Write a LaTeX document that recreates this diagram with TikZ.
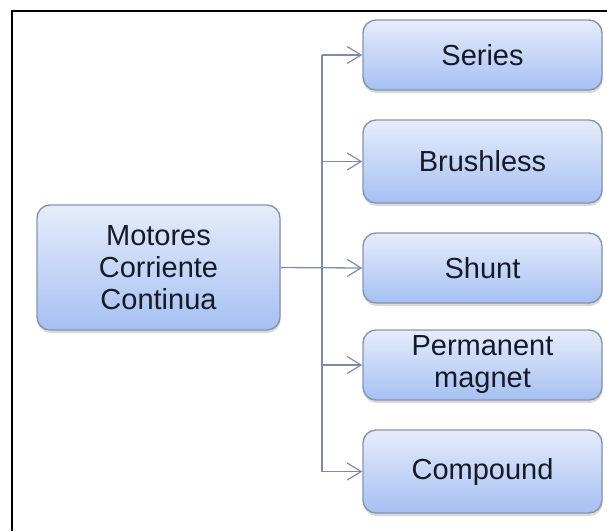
\documentclass[tikz,border=0pt]{standalone}
\usepackage{fontspec}
\setmainfont{Liberation Sans}
\usetikzlibrary{arrows.meta,shadows}

\definecolor{boxtop}{HTML}{E6ECFB}
\definecolor{boxbottom}{HTML}{A6C0F2}
\definecolor{boxedge}{HTML}{8794AE}
\definecolor{linkcol}{HTML}{7F8CA6}
\definecolor{textcol}{HTML}{141A28}

\tikzset{
  motorbox/.style={
    draw=boxedge, line width=1.4pt, rounded corners=13pt,
    top color=boxtop, bottom color=boxbottom,
    drop shadow={shadow xshift=0.5pt, shadow yshift=-3pt, opacity=0.25, fill=black!60},
    text=textcol, align=center, inner sep=0pt,
    font=\fontsize{29}{32}\selectfont
  },
  link/.style={draw=linkcol, line width=1.3pt},
  arrowlink/.style={link, -{Straight Barb[length=14pt,width=17pt,line width=1.2pt]}},
  frame/.style={draw=black, line width=2pt}
}

\begin{document}
\begin{tikzpicture}[x=1pt,y=-1pt]
  \useasboundingbox (0,0) rectangle (607,531);

  % outer frame (top and left edges)
  \draw[frame] (12,531) -- (12,11) -- (607,11);

  % root node
  \node[motorbox, minimum width=243pt, minimum height=125pt] (main) at (158.5,267.5)
    {Motores\\Corriente\\Continua};

  % motor types
  \node[motorbox, minimum width=239pt, minimum height=70pt] (series)    at (482.5,55)    {Series};
  \node[motorbox, minimum width=239pt, minimum height=83pt] (brushless) at (482.5,161.5)  {Brushless};
  \node[motorbox, minimum width=239pt, minimum height=70pt] (shunt)     at (482.5,268)   {Shunt};
  \node[motorbox, minimum width=239pt, minimum height=70pt] (pm)        at (482.5,365)   {Permanent\\magnet};
  \node[motorbox, minimum width=239pt, minimum height=83pt] (compound)  at (482.5,471.5) {Compound};

  % branching trunk
  \coordinate (trunk) at (322,268);
  \draw[link] (trunk |- series.west) -- (trunk |- compound.west);
  \draw[arrowlink] (main.east) -- (shunt.west);
  \foreach \n in {series,brushless,pm,compound}
    \draw[arrowlink] (trunk |- \n.west) -- (\n.west);
\end{tikzpicture}
\end{document}
